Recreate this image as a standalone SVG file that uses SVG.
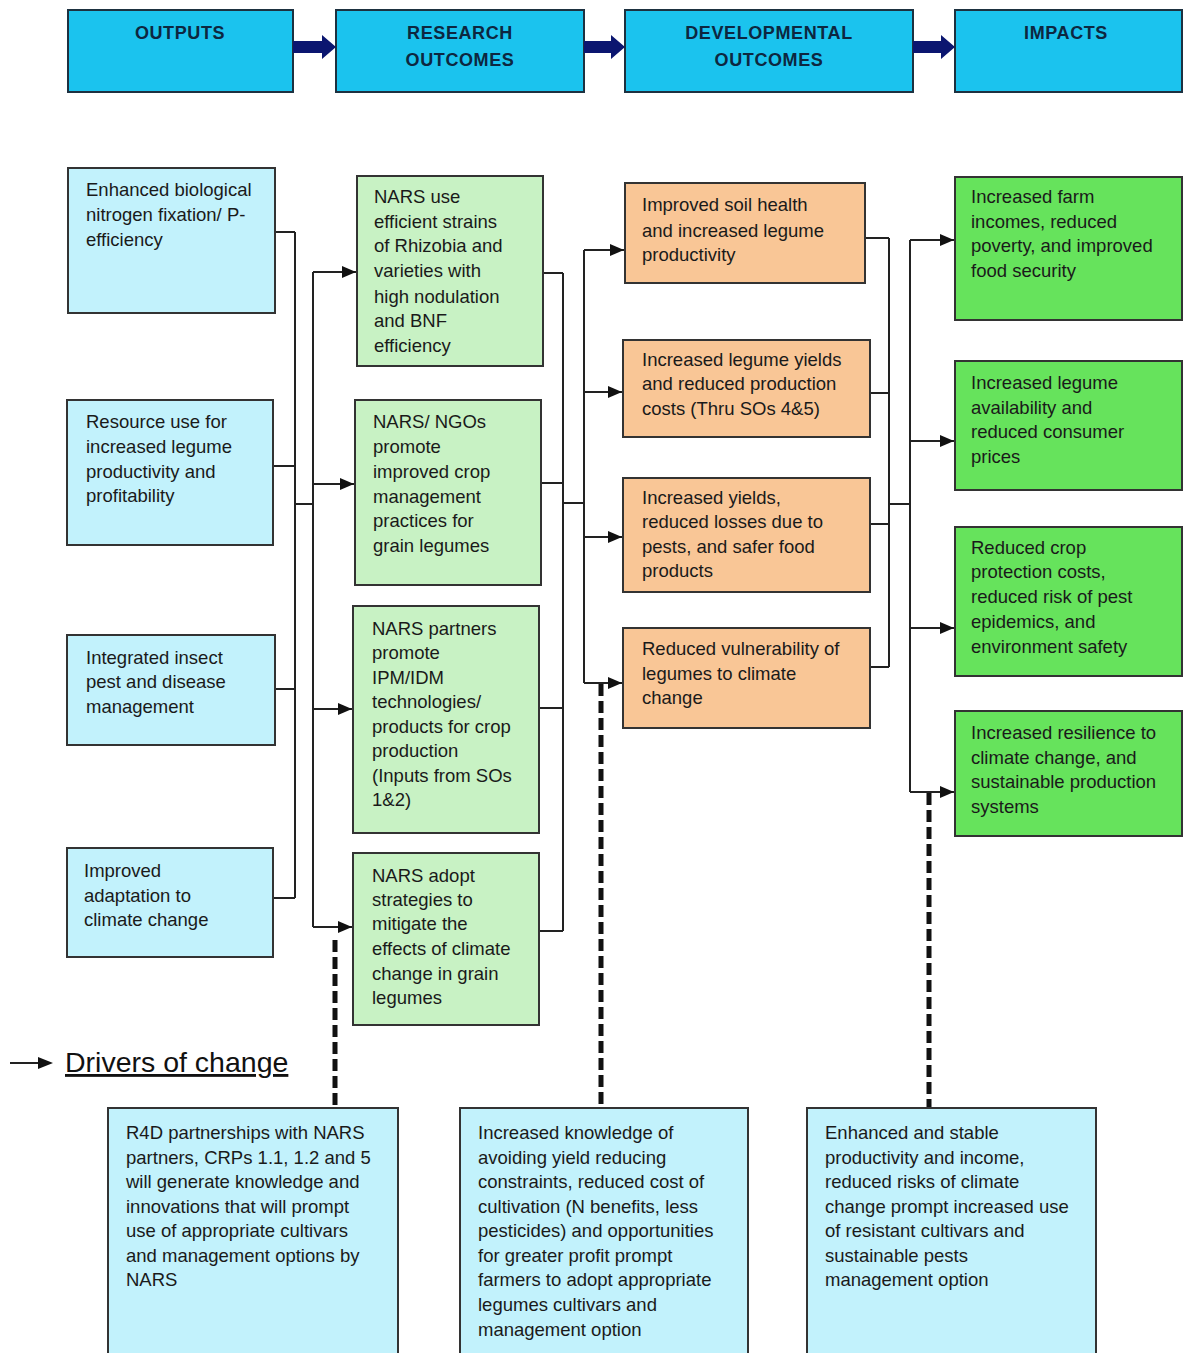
<svg xmlns="http://www.w3.org/2000/svg" width="1184" height="1353" viewBox="0 0 1184 1353">
<defs>
<style>
.hdr{fill:#1BC3EE;stroke:#1d3140;stroke-width:2}
.out{fill:#C2F2FC;stroke:#333;stroke-width:2}
.res{fill:#C8F2C4;stroke:#333;stroke-width:2}
.dev{fill:#F9C696;stroke:#333;stroke-width:2}
.imp{fill:#66E35C;stroke:#333;stroke-width:2}
.drv{fill:#C2F2FC;stroke:#333;stroke-width:2}
.ht{font-family:"Liberation Sans",Arial,sans-serif;font-weight:bold;font-size:18px;fill:#0d2740;text-anchor:middle;letter-spacing:0.6px}
.t{font-family:"Liberation Sans",Arial,sans-serif;font-size:18.5px;fill:#1a1a1a}
.ln{stroke:#222;stroke-width:2;fill:none}
.ar{stroke:#222;stroke-width:2;fill:none;marker-end:url(#ah)}
.dash{stroke:#111;stroke-width:5;stroke-dasharray:12 5;fill:none}
.harrow{fill:#0B1670}
</style>
<marker id="ah" viewBox="0 0 14 12" refX="14" refY="6" markerWidth="14" markerHeight="12" markerUnits="userSpaceOnUse" orient="auto">
<path d="M0,0 L14,6 L0,12 z" fill="#111"/>
</marker>
</defs>
<rect width="1184" height="1353" fill="#fff"/>

<g id="headers">
<g id="h-outputs"><rect class="hdr" x="68" y="10" width="225" height="82"/><text class="ht" x="180" y="39">OUTPUTS</text></g>
<g id="h-research"><rect class="hdr" x="336" y="10" width="248" height="82"/><text class="ht" x="460" y="39">RESEARCH</text><text class="ht" x="460" y="66">OUTCOMES</text></g>
<g id="h-dev"><rect class="hdr" x="625" y="10" width="288" height="82"/><text class="ht" x="769" y="39">DEVELOPMENTAL</text><text class="ht" x="769" y="66">OUTCOMES</text></g>
<g id="h-impacts"><rect class="hdr" x="955" y="10" width="227" height="82"/><text class="ht" x="1066" y="39">IMPACTS</text></g>
</g>

<g id="header-arrows">
<polygon class="harrow" points="293,41 322,41 322,35 336,47 322,59 322,53 293,53"/>
<polygon class="harrow" points="584,41 611,41 611,35 625,47 611,59 611,53 584,53"/>
<polygon class="harrow" points="913,41 941,41 941,35 955,47 941,59 941,53 913,53"/>
</g>

<g id="connectors">
<path class="ln" d="M275,232 H295 M273,466 H295 M275,689 H295 M273,898 H295 M295,232 V898 M295,504 H313 M313,272 V927"/>
<path class="ar" d="M313,272 H356"/>
<path class="ar" d="M313,484 H354"/>
<path class="ar" d="M313,709 H352"/>
<path class="ar" d="M313,927 H352"/>
<path class="ln" d="M543,273 H563 M541,483 H563 M539,708 H563 M539,931 H563 M563,273 V931 M563,503 H584 M584,250 V683"/>
<path class="ar" d="M584,250 H624"/>
<path class="ar" d="M584,392 H622"/>
<path class="ar" d="M584,537 H622"/>
<path class="ar" d="M584,683 H622"/>
<path class="ln" d="M865,238 H889 M870,393 H889 M870,524 H889 M870,667 H889 M889,238 V667 M889,504 H910 M910,240 V792"/>
<path class="ar" d="M910,240 H954"/>
<path class="ar" d="M910,441 H954"/>
<path class="ar" d="M910,628 H954"/>
<path class="ar" d="M910,792 H954"/>
<path class="dash" d="M335,940 V1108"/>
<path class="dash" d="M601,684 V1108"/>
<path class="dash" d="M929,793 V1108"/>
</g>

<g id="o1"><rect class="out" x="68" y="168" width="207" height="145"/>
<text class="t" x="86" y="196">Enhanced biological</text><text class="t" x="86" y="221">nitrogen fixation/ P-</text><text class="t" x="86" y="246">efficiency</text></g>
<g id="o2"><rect class="out" x="67" y="400" width="206" height="145"/>
<text class="t" x="86" y="428">Resource use for</text><text class="t" x="86" y="453">increased legume</text><text class="t" x="86" y="478">productivity and</text><text class="t" x="86" y="502">profitability</text></g>
<g id="o3"><rect class="out" x="67" y="635" width="208" height="110"/>
<text class="t" x="86" y="664">Integrated insect</text><text class="t" x="86" y="688">pest and disease</text><text class="t" x="86" y="713">management</text></g>
<g id="o4"><rect class="out" x="67" y="848" width="206" height="109"/>
<text class="t" x="84" y="877">Improved</text><text class="t" x="84" y="902">adaptation to</text><text class="t" x="84" y="926">climate change</text></g>

<g id="r1"><rect class="res" x="357" y="176" width="186" height="190"/>
<text class="t" x="374" y="203">NARS use</text><text class="t" x="374" y="228">efficient strains</text><text class="t" x="374" y="252">of Rhizobia and</text><text class="t" x="374" y="277">varieties with</text><text class="t" x="374" y="303">high nodulation</text><text class="t" x="374" y="327">and BNF</text><text class="t" x="374" y="352">efficiency</text></g>
<g id="r2"><rect class="res" x="355" y="400" width="186" height="185"/>
<text class="t" x="373" y="428">NARS/ NGOs</text><text class="t" x="373" y="453">promote</text><text class="t" x="373" y="478">improved crop</text><text class="t" x="373" y="503">management</text><text class="t" x="373" y="527">practices for</text><text class="t" x="373" y="552">grain legumes</text></g>
<g id="r3"><rect class="res" x="353" y="606" width="186" height="227"/>
<text class="t" x="372" y="635">NARS partners</text><text class="t" x="372" y="659">promote</text><text class="t" x="372" y="684">IPM/IDM</text><text class="t" x="372" y="708">technologies/</text><text class="t" x="372" y="733">products for crop</text><text class="t" x="372" y="757">production</text><text class="t" x="372" y="782">(Inputs from SOs</text><text class="t" x="372" y="806">1&amp;2)</text></g>
<g id="r4"><rect class="res" x="353" y="853" width="186" height="172"/>
<text class="t" x="372" y="882">NARS adopt</text><text class="t" x="372" y="906">strategies to</text><text class="t" x="372" y="930">mitigate the</text><text class="t" x="372" y="955">effects of climate</text><text class="t" x="372" y="980">change in grain</text><text class="t" x="372" y="1004">legumes</text></g>

<g id="d1"><rect class="dev" x="625" y="183" width="240" height="100"/>
<text class="t" x="642" y="211">Improved soil health</text><text class="t" x="642" y="237">and increased legume</text><text class="t" x="642" y="261">productivity</text></g>
<g id="d2"><rect class="dev" x="623" y="340" width="247" height="97"/>
<text class="t" x="642" y="366">Increased legume yields</text><text class="t" x="642" y="390">and reduced production</text><text class="t" x="642" y="415">costs (Thru SOs 4&amp;5)</text></g>
<g id="d3"><rect class="dev" x="623" y="478" width="247" height="114"/>
<text class="t" x="642" y="504">Increased yields,</text><text class="t" x="642" y="528">reduced losses due to</text><text class="t" x="642" y="553">pests, and safer food</text><text class="t" x="642" y="577">products</text></g>
<g id="d4"><rect class="dev" x="623" y="628" width="247" height="100"/>
<text class="t" x="642" y="655">Reduced vulnerability of</text><text class="t" x="642" y="680">legumes to climate</text><text class="t" x="642" y="704">change</text></g>

<g id="i1"><rect class="imp" x="955" y="177" width="227" height="143"/>
<text class="t" x="971" y="203">Increased farm</text><text class="t" x="971" y="228">incomes, reduced</text><text class="t" x="971" y="252">poverty, and improved</text><text class="t" x="971" y="277">food security</text></g>
<g id="i2"><rect class="imp" x="955" y="361" width="227" height="129"/>
<text class="t" x="971" y="389">Increased legume</text><text class="t" x="971" y="414">availability and</text><text class="t" x="971" y="438">reduced consumer</text><text class="t" x="971" y="463">prices</text></g>
<g id="i3"><rect class="imp" x="955" y="527" width="227" height="149"/>
<text class="t" x="971" y="554">Reduced crop</text><text class="t" x="971" y="578">protection costs,</text><text class="t" x="971" y="603">reduced risk of pest</text><text class="t" x="971" y="628">epidemics, and</text><text class="t" x="971" y="653">environment safety</text></g>
<g id="i4"><rect class="imp" x="955" y="711" width="227" height="125"/>
<text class="t" x="971" y="739">Increased resilience to</text><text class="t" x="971" y="764">climate change, and</text><text class="t" x="971" y="788">sustainable production</text><text class="t" x="971" y="813">systems</text></g>

<g id="legend">
<line class="ln" x1="10" y1="1063" x2="40" y2="1063"/>
<path d="M38,1057 L53,1063 L38,1069 z" fill="#111"/>
<text x="65" y="1072" font-family="Liberation Sans,Arial,sans-serif" font-size="28.5" fill="#111" text-decoration="underline">Drivers of change</text>
</g>

<g id="b1"><rect class="drv" x="108" y="1108" width="290" height="250"/>
<text class="t" x="126" y="1139">R4D partnerships with NARS</text><text class="t" x="126" y="1164">partners, CRPs 1.1, 1.2 and 5</text><text class="t" x="126" y="1188">will generate knowledge and</text><text class="t" x="126" y="1213">innovations that will prompt</text><text class="t" x="126" y="1237">use of appropriate cultivars</text><text class="t" x="126" y="1262">and management options by</text><text class="t" x="126" y="1286">NARS</text></g>
<g id="b2"><rect class="drv" x="460" y="1108" width="288" height="250"/>
<text class="t" x="478" y="1139">Increased knowledge of</text><text class="t" x="478" y="1164">avoiding yield reducing</text><text class="t" x="478" y="1188">constraints, reduced cost of</text><text class="t" x="478" y="1213">cultivation (N benefits, less</text><text class="t" x="478" y="1237">pesticides) and opportunities</text><text class="t" x="478" y="1262">for greater profit prompt</text><text class="t" x="478" y="1286">farmers to adopt appropriate</text><text class="t" x="478" y="1311">legumes cultivars and</text><text class="t" x="478" y="1336">management option</text></g>
<g id="b3"><rect class="drv" x="807" y="1108" width="289" height="250"/>
<text class="t" x="825" y="1139">Enhanced and stable</text><text class="t" x="825" y="1164">productivity and income,</text><text class="t" x="825" y="1188">reduced risks of climate</text><text class="t" x="825" y="1213">change prompt increased use</text><text class="t" x="825" y="1237">of resistant cultivars and</text><text class="t" x="825" y="1262">sustainable pests</text><text class="t" x="825" y="1286">management option</text></g>
</svg>
